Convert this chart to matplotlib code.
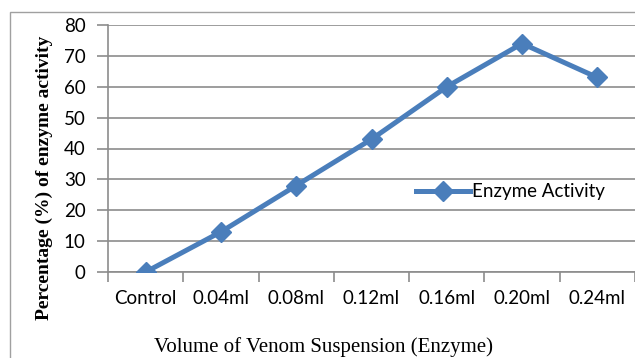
import matplotlib
matplotlib.use("Agg")
import matplotlib.pyplot as plt
from matplotlib.patches import Rectangle

# Chart data.
categories = ["Control", "0.04ml", "0.08ml", "0.12ml", "0.16ml", "0.20ml", "0.24ml"]
activity = [0, 13, 28, 43, 60, 74, 63]
y_ticks = [0, 10, 20, 30, 40, 50, 60, 70, 80]

line_color = "#4A7EBB"
grid_color = "#8C8C8C"

fig = plt.figure(figsize=(6.35, 3.58), dpi=100)

# Outer chart border (extends past the right/bottom edge like the crop).
fig.patches.append(Rectangle((10 / 635, -0.05), 1.2, 1 - 12 / 358 + 0.05,
                             transform=fig.transFigure, fill=False,
                             edgecolor="#A0A0A0", linewidth=1.0))

ax = fig.add_axes([108 / 635, 1 - 272 / 358, 1 - 108 / 635, 247 / 358])
x = list(range(len(categories)))
ax.plot(x, activity, color=line_color, linewidth=3.6, marker="D",
        markersize=10.5, label="Enzyme Activity", zorder=3)

ax.set_xlim(-0.5, -0.5 + 527 / 76)
ax.set_ylim(0, 80)
ax.set_yticks(y_ticks)
ax.set_xticks(x)
ax.set_xticklabels(categories)
ax.set_xticks([i - 0.5 for i in range(len(categories) + 1)], minor=True)

ax.grid(axis="y", color=grid_color, linewidth=1.2)
ax.set_axisbelow(True)
for side in ["top", "right"]:
    ax.spines[side].set_visible(False)
for side in ["left", "bottom"]:
    ax.spines[side].set_color(grid_color)
    ax.spines[side].set_linewidth(1.2)

ax.tick_params(axis="y", length=8, width=1.2, color=grid_color, pad=8,
               labelsize=13.5)
ax.tick_params(axis="x", which="major", length=0, pad=13, labelsize=13.5)
ax.tick_params(axis="x", which="minor", length=7, width=1.2, color=grid_color)
for lab in ax.get_xticklabels() + ax.get_yticklabels():
    lab.set_family("Lato")

# Axis titles placed in figure coordinates.
fig.text(44 / 635, 1 - 178 / 358, "Percentage (%) of enzyme activity",
         family="Liberation Serif", fontweight="bold", fontsize=14,
         rotation=90, ha="center", va="center")
fig.text(323 / 635, 1 - 347 / 358, "Volume of Venom Suspension (Enzyme)",
         family="Liberation Serif", fontsize=15, ha="center", va="center")

ax.legend(loc="center left", bbox_to_anchor=((408 - 108) / 527, (272 - 192) / 247),
          frameon=False, prop={"family": "Lato", "size": 13.5},
          handlelength=2.9, handletextpad=0.1, borderaxespad=0)

fig.savefig("out.png", dpi=100)
